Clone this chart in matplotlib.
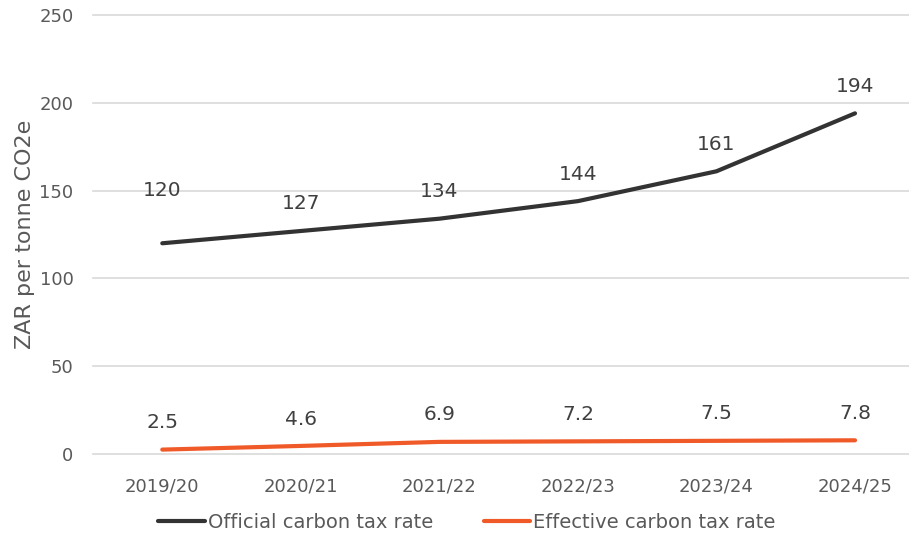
import matplotlib
matplotlib.use("Agg")
import matplotlib.pyplot as plt

years = ["2019/20", "2020/21", "2021/22", "2022/23", "2023/24", "2024/25"]
official = [120, 127, 134, 144, 161, 194]
effective = [2.5, 4.6, 6.9, 7.2, 7.5, 7.8]

official_labels = ["120", "127", "134", "144", "161", "194"]
effective_labels = ["2.5", "4.6", "6.9", "7.2", "7.5", "7.8"]

# label offsets above the point, pixels
official_offsets = [53, 27, 27, 27, 27, 27]
effective_offsets = [27, 26, 27, 27, 27, 27]

dark = "#333333"
orange = "#F05A28"
text_c = "#595959"

plt.rcParams['font.family'] = ['DejaVu Sans']

fig = plt.figure(figsize=(9.09, 5.36), dpi=100)
ax = fig.add_axes([93/909, 1-454/536, 1-93/909, (454-15)/536])

x = list(range(len(years)))
l1, = ax.plot(x, official, color=dark, lw=3, solid_capstyle='round', label="Official carbon tax rate")
l2, = ax.plot(x, effective, color=orange, lw=3, solid_capstyle='round', label="Effective carbon tax rate")

for i in x:
    ax.annotate(official_labels[i], (i, official[i]), xytext=(0, official_offsets[i]),
                textcoords='offset pixels', ha='center', va='center', fontsize=14.5, color="#404040")
    ax.annotate(effective_labels[i], (i, effective[i]), xytext=(0, effective_offsets[i]),
                textcoords='offset pixels', ha='center', va='center', fontsize=14.5, color="#404040")

ax.set_xlim(-0.5, 5 + (909-855)/138.6)
ax.set_ylim(0, 250)
ax.set_yticks([0, 50, 100, 150, 200, 250])
ax.set_xticks(x)
ax.set_xticklabels(years)
ax.grid(axis='y', color="#d9d9d9", lw=1.2)
for g in ax.get_ygridlines():
    g.set_clip_on(False)
ax.set_axisbelow(True)
for s in ax.spines.values():
    s.set_visible(False)
ax.tick_params(axis='both', length=0, labelsize=13, colors=text_c)
ax.tick_params(axis='x', pad=17)
ax.tick_params(axis='y', pad=14)
ax.set_ylabel("ZAR per tonne CO2e", fontsize=16, color=text_c, labelpad=3)

fig.legend(handles=[l1, l2], loc='center', bbox_to_anchor=(467/909, 1-522/536), ncol=2,
           frameon=False, fontsize=14, labelcolor=text_c, handlelength=2.4,
           handletextpad=0.15, columnspacing=2.6)

fig.savefig("out.png", dpi=100)
